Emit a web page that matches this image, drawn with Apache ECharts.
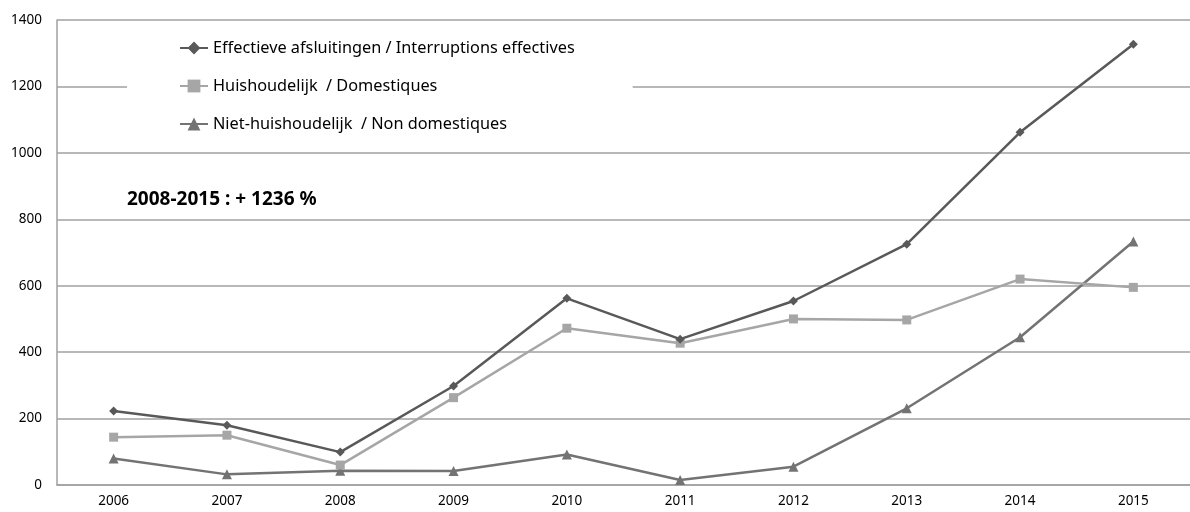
<!DOCTYPE html>
<html>
<head>
<meta charset="utf-8">
<script src="https://cdn.jsdelivr.net/npm/echarts@6/dist/echarts.min.js"></script>
<style>
  html, body { margin: 0; padding: 0; background: #fff; }
  #chart { width: 1190px; height: 512px; }
</style>
</head>
<body>
<div id="chart"></div>
<script>
// jaren
var years = ['2006', '2007', '2008', '2009', '2010', '2011', '2012', '2013', '2014', '2015'];
// Effectieve afsluitingen / Interruptions effectives
var effectief = [223, 180, 99, 298, 562, 439, 554, 725, 1062, 1327];
// Huishoudelijk / Domestiques
var huishoudelijk = [144, 150, 60, 263, 472, 427, 500, 497, 620, 595];
// Niet-huishoudelijk / Non domestiques
var nietHuishoudelijk = [80, 32, 43, 42, 92, 15, 55, 231, 445, 733];
var yTicks = [0, 200, 400, 600, 800, 1000, 1200, 1400];
var note = '2008-2015 : + 1236 %';

var font = '"Noto Sans", "Open Sans", sans-serif';
var chart = echarts.init(document.getElementById('chart'));

var option = {
  animation: false,
  textStyle: { fontFamily: font },
  grid: { left: 57, right: -13, top: 20, bottom: 27 },
  legend: {
    orient: 'vertical',
    left: 127,
    top: 30,
    backgroundColor: '#fff',
    padding: [10, 58, 10, 52],
    itemWidth: 28,
    itemHeight: 16,
    itemGap: 22,
    textStyle: { fontFamily: font, fontSize: 16.3, color: '#000' },
    data: ['Effectieve afsluitingen / Interruptions effectives', 'Huishoudelijk  / Domestiques', 'Niet-huishoudelijk  / Non domestiques']
  },
  graphic: [{
    type: 'text',
    left: 127,
    top: 190,
    style: { text: note, font: 'bold 19px ' + font, fill: '#000' }
  }],
  xAxis: {
    type: 'category',
    data: years,
    boundaryGap: true,
    axisLine: { lineStyle: { color: '#a0a0a0', width: 1.5 } },
    axisTick: { show: false },
    axisLabel: { color: '#000', fontSize: 13.5, margin: 9 }
  },
  yAxis: {
    type: 'value',
    min: yTicks[0],
    max: yTicks[yTicks.length - 1],
    interval: 200,
    axisLine: { show: true, lineStyle: { color: '#a0a0a0', width: 1.5 } },
    axisTick: { show: false },
    axisLabel: { color: '#000', fontSize: 13.5, margin: 15, formatter: function (v) { return String(v); } },
    splitLine: { lineStyle: { color: '#a0a0a0', width: 1.5 } }
  },
  series: [
    {
      name: 'Effectieve afsluitingen / Interruptions effectives',
      type: 'line',
      data: effectief,
      symbol: 'diamond',
      symbolSize: 9,
      z: 4,
      itemStyle: { color: '#595959' },
      lineStyle: { color: '#595959', width: 2.5 }
    },
    {
      name: 'Huishoudelijk  / Domestiques',
      type: 'line',
      data: huishoudelijk,
      symbol: 'rect',
      symbolSize: 9,
      z: 3,
      itemStyle: { color: '#a6a6a6' },
      lineStyle: { color: '#a6a6a6', width: 2.5 }
    },
    {
      name: 'Niet-huishoudelijk  / Non domestiques',
      type: 'line',
      data: nietHuishoudelijk,
      symbol: 'triangle',
      symbolSize: 10,
      z: 2,
      itemStyle: { color: '#737373' },
      lineStyle: { color: '#737373', width: 2.5 }
    }
  ]
};
chart.setOption(option);
</script>
</body>
</html>
